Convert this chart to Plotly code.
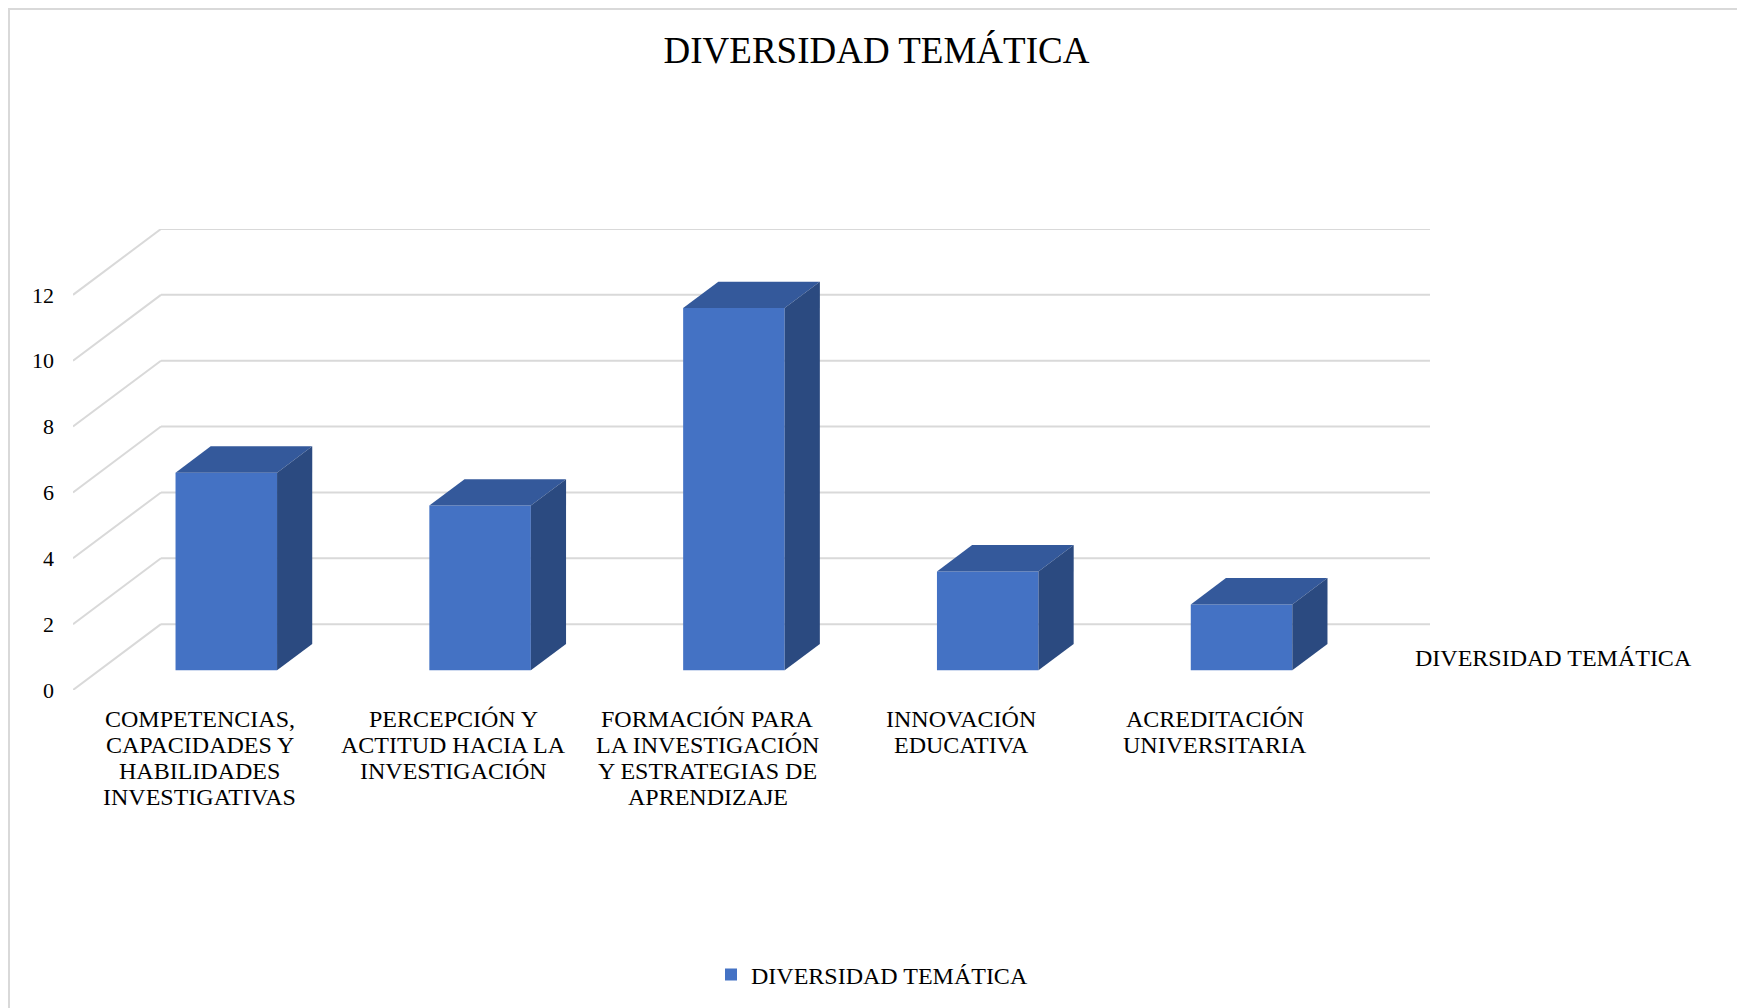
import plotly.graph_objects as go

categories = [
    "COMPETENCIAS,<br>CAPACIDADES Y<br>HABILIDADES<br>INVESTIGATIVAS",
    "PERCEPCIÓN Y<br>ACTITUD HACIA LA<br>INVESTIGACIÓN",
    "FORMACIÓN PARA<br>LA INVESTIGACIÓN<br>Y ESTRATEGIAS DE<br>APRENDIZAJE",
    "INNOVACIÓN<br>EDUCATIVA",
    "ACREDITACIÓN<br>UNIVERSITARIA",
]
values = [6, 5, 11, 3, 2]
y_ticks = [0, 2, 4, 6, 8, 10, 12]
series_name = "DIVERSIDAD TEMÁTICA"
title_text = "DIVERSIDAD TEMÁTICA"

# --- layout / oblique 3D projection settings (styling) ---
W, H = 1737, 1000          # page body adds an 8px margin
ML, MR, MT, MB = 65, 315, 221, 318
DX = 0.3465      # full floor depth, in category units
DY = 2.0         # full floor depth, in value units
FRONT = 0.3      # bar front at 30% of depth
DEPTH = 0.4      # bar depth fraction
BW = 0.4         # bar width (category units)
C_FRONT = "#4472C4"
C_TOP = "#34599B"
C_SIDE = "#2B4A80"
GRID = "#D9D9D9"
FONT = "Liberation Serif"
LABEL_TOP = 711     # first label line centre, px from top
LABEL_STEP = 26     # label line spacing, px

n = len(categories)
x_idx = list(range(n))
x_min, x_max = -0.5, n - 0.5 + DX
y_max = max(y_ticks) + DY

pw = W - ML - MR
ph = H - MT - MB
def px2paper_x(px):
    return (px - ML) / pw
def px2paper_y(py):
    return (H - MB - py) / ph

fig = go.Figure()

# Front faces (real bars)
fo_x, fo_y = FRONT * DX, FRONT * DY
fig.add_trace(go.Bar(
    x=[i + fo_x for i in x_idx], y=values, base=fo_y, width=BW,
    marker=dict(color=C_FRONT, line=dict(width=0)),
    name=series_name, showlegend=True,
))

# Top and side faces
dxd, dyd = DEPTH * DX, DEPTH * DY
for i, v in zip(x_idx, values):
    x0 = i + fo_x - BW / 2
    x1 = i + fo_x + BW / 2
    top = v + fo_y
    fig.add_trace(go.Scatter(
        x=[x0, x1, x1 + dxd, x0 + dxd, x0],
        y=[top, top, top + dyd, top + dyd, top],
        fill="toself", fillcolor=C_TOP, mode="lines", line=dict(width=0),
        showlegend=False, hoverinfo="skip",
    ))
    fig.add_trace(go.Scatter(
        x=[x1, x1 + dxd, x1 + dxd, x1, x1],
        y=[fo_y, fo_y + dyd, top + dyd, top, fo_y],
        fill="toself", fillcolor=C_SIDE, mode="lines", line=dict(width=0),
        showlegend=False, hoverinfo="skip",
    ))

# Wall gridlines (side wall diagonals + back wall) below the traces
shapes = []
for t in y_ticks:
    shapes.append(dict(type="line", xref="x", yref="y", layer="below",
                       x0=x_min, y0=t, x1=x_min + DX, y1=t + DY,
                       line=dict(color=GRID, width=2)))
    shapes.append(dict(type="line", xref="x", yref="y", layer="below",
                       x0=x_min + DX, y0=t + DY, x1=x_max, y1=t + DY,
                       line=dict(color=GRID, width=2)))

# chart border (left and top edges visible)
shapes.append(dict(type="rect", xref="paper", yref="paper", layer="below",
                   x0=px2paper_x(1), y0=px2paper_y(H + 30),
                   x1=px2paper_x(W + 30), y1=px2paper_y(1),
                   line=dict(color=GRID, width=2), fillcolor="rgba(0,0,0,0)"))

annotations = []
# category labels, one annotation per line (tight line spacing)
for i, lab in zip(x_idx, categories):
    for k, line in enumerate(lab.split("<br>")):
        annotations.append(dict(
            text=line, xref="x", yref="paper", x=i,
            y=px2paper_y(LABEL_TOP + k * LABEL_STEP),
            xanchor="center", yanchor="middle", showarrow=False,
            font=dict(family=FONT, size=24, color="#000000")))
# depth (series) axis label
annotations.append(dict(text=series_name, xref="paper", yref="paper",
                        x=px2paper_x(1405), y=px2paper_y(650),
                        xanchor="left", yanchor="middle", showarrow=False,
                        font=dict(family=FONT, size=24, color="#000000")))

fig.update_layout(
    width=W, height=H,
    margin=dict(l=ML, r=MR, t=MT, b=MB, pad=0),
    paper_bgcolor="white", plot_bgcolor="white",
    font=dict(family=FONT, color="#000000", size=22),
    title=dict(text=title_text, x=0.5, xanchor="center", y=1 - 42 / H,
               yanchor="middle", yref="container",
               font=dict(family=FONT, size=37, color="#000000")),
    xaxis=dict(range=[x_min, x_max], tickvals=x_idx, ticktext=categories,
               showticklabels=False,
               showgrid=False, zeroline=False, showline=False, ticks=""),
    yaxis=dict(range=[0, y_max], tickvals=y_ticks, showgrid=False,
               zeroline=False, showline=False, ticks="",
               ticklabelstandoff=18,
               tickfont=dict(family=FONT, size=22, color="#000000")),
    shapes=shapes,
    annotations=annotations,
    showlegend=True,
    legend=dict(orientation="h", xref="container", yref="container",
                x=864 / W, xanchor="center", y=1 - 967 / H, yanchor="middle",
                font=dict(family=FONT, size=24, color="#000000"),
                itemwidth=30),
)

fig.write_html("out.html")
